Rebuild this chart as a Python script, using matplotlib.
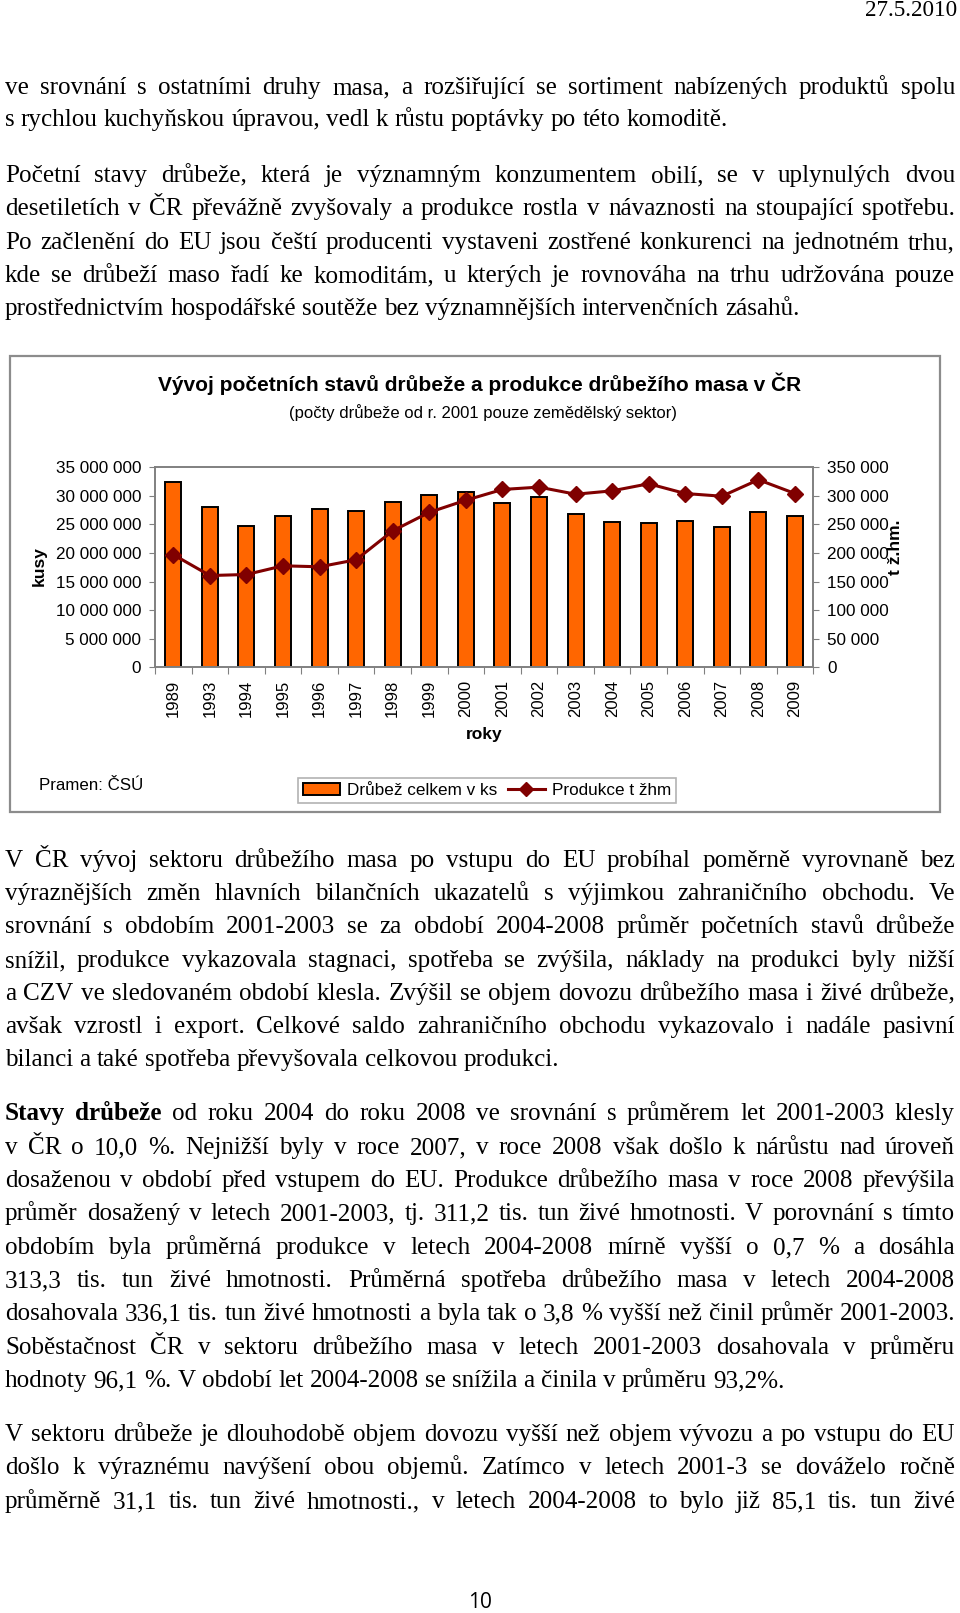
import matplotlib
matplotlib.use('Agg')
import matplotlib.pyplot as plt
import matplotlib.ticker as mticker
from matplotlib.patches import Rectangle, Patch
from matplotlib.lines import Line2D
import numpy as np

W, H = 960, 1613

# chart data
years = ['1989', '1993', '1994', '1995', '1996', '1997', '1998', '1999', '2000',
         '2001', '2002', '2003', '2004', '2005', '2006', '2007', '2008', '2009']
poultry_ks = [32400000, 28100000, 24800000, 26500000, 27700000, 27400000, 28900000,
              30100000, 30700000, 28800000, 29800000, 26800000, 25400000, 25200000,
              25600000, 24500000, 27200000, 26400000]
production_t = [197100, 160600, 162400, 177600, 175900, 188200, 238800, 271200,
                292400, 311200, 315300, 302900, 308800, 321200, 304100, 299400,
                328200, 304100]

chart_title = 'Vývoj početních stavů drůbeže a produkce drůbežího masa v ČR'
chart_subtitle = '(počty drůbeže od r. 2001 pouze zemědělský sektor)'

# page text, one entry per printed line: (y centre, text, justified)
text_top = [
    (88, 've srovnání s ostatními druhy masa, a  rozšiřující se sortiment nabízených produktů spolu', True),
    (120, 's rychlou kuchyňskou úpravou, vedl k růstu poptávky po této komoditě.', False),
    (176, 'Početní stavy drůbeže, která je významným konzumentem obilí, se v uplynulých dvou', True),
    (209, 'desetiletích v ČR převážně zvyšovaly a produkce rostla v návaznosti na stoupající spotřebu.', True),
    (243, 'Po začlenění do EU jsou čeští producenti vystaveni zostřené konkurenci na jednotném trhu,', True),
    (276, 'kde se drůbeží maso řadí ke komoditám, u kterých je rovnováha na trhu udržována pouze', True),
    (309, 'prostřednictvím hospodářské soutěže bez významnějších intervenčních zásahů.', False),
]
text_bottom = [
    (861, 'V ČR vývoj sektoru drůbežího masa po vstupu do EU probíhal poměrně vyrovnaně bez', True),
    (894, 'výraznějších změn hlavních bilančních ukazatelů s výjimkou zahraničního obchodu. Ve', True),
    (927, 'srovnání s obdobím 2001-2003 se za období 2004-2008 průměr početních stavů drůbeže', True),
    (961, 'snížil, produkce vykazovala stagnaci, spotřeba se zvýšila, náklady na produkci byly nižší', True),
    (994, 'a CZV ve sledovaném období klesla. Zvýšil se objem dovozu drůbežího masa i živé drůbeže,', True),
    (1027, 'avšak vzrostl i export. Celkové saldo zahraničního obchodu vykazovalo i nadále pasivní', True),
    (1060, 'bilanci a také spotřeba převyšovala celkovou produkci.', False),
    (1114, 'Stavy drůbeže od roku 2004 do roku 2008 ve srovnání s průměrem let 2001-2003 klesly', True),
    (1148, 'v ČR o 10,0 %. Nejnižší byly v roce 2007, v roce 2008 však došlo k nárůstu nad úroveň', True),
    (1181, 'dosaženou v období před vstupem do EU. Produkce drůbežího masa v roce 2008 převýšila', True),
    (1214, 'průměr dosažený v letech 2001-2003, tj. 311,2 tis. tun živé hmotnosti. V porovnání s tímto', True),
    (1248, 'obdobím byla průměrná produkce v letech 2004-2008 mírně vyšší o 0,7 % a dosáhla', True),
    (1281, '313,3 tis. tun živé hmotnosti. Průměrná spotřeba drůbežího masa v letech 2004-2008', True),
    (1314, 'dosahovala 336,1 tis. tun živé hmotnosti a byla tak o 3,8 % vyšší než činil průměr 2001-2003.', True),
    (1348, 'Soběstačnost ČR v sektoru drůbežího masa v letech 2001-2003 dosahovala v průměru', True),
    (1381, 'hodnoty 96,1 %. V období let 2004-2008 se snížila a činila v průměru 93,2%.', False),
    (1435, 'V sektoru drůbeže je dlouhodobě objem dovozu vyšší než objem vývozu a po vstupu do EU', True),
    (1468, 'došlo k výraznému navýšení obou objemů. Zatímco v letech 2001-3 se dováželo ročně', True),
    (1502, 'průměrně 31,1 tis. tun živé hmotnosti., v letech 2004-2008 to bylo již 85,1 tis. tun živé', True),
]
bold_start = {'Stavy drůbeže od roku 2004 do roku 2008 ve srovnání s průměrem let 2001-2003 klesly': 2}

SERIF = 'Liberation Serif'
SANS = 'Liberation Sans'


def fx(x):
    return x / W


def fy(y):
    return 1 - y / H


fig = plt.figure(figsize=(W / 100, H / 100), dpi=100)
renderer = fig.canvas.get_renderer()


def text_width(s, size, weight='normal'):
    t = fig.text(0, 0, s, fontsize=size, family=SERIF, weight=weight)
    w = t.get_window_extent(renderer).width
    t.remove()
    return w


# pick body size so a short last line comes out as wide as on the page
w10 = text_width('s rychlou kuchyňskou úpravou, vedl k růstu poptávky po této komoditě.', 10)
body_size = 10 * 724 / w10


def draw_line(y, line, justify, x0=5, x1=955):
    words = line.split()
    nb = bold_start.get(line, 0)
    weights = ['bold' if i < nb else 'normal' for i in range(len(words))]
    widths = [text_width(w, body_size, wt) for w, wt in zip(words, weights)]
    space = text_width('a a', body_size) - text_width('aa', body_size)
    if justify and len(words) > 1:
        gap = (x1 - x0 - sum(widths)) / (len(words) - 1)
    else:
        gap = space
    x = x0
    for w, wd, wt in zip(words, widths, weights):
        fig.text(fx(x), fy(y + 6), w, fontsize=body_size, family=SERIF, weight=wt,
                 ha='left', va='baseline')
        x += wd + gap


for y, line, just in text_top + text_bottom:
    draw_line(y, line, just)

fig.text(fx(957), fy(16), '27.5.2010', fontsize=body_size * 0.92, family=SERIF,
         ha='right', va='baseline')
fig.text(fx(480), fy(1602), '10', fontsize=15, family='Open Sans',
         ha='center', va='center')

# chart frame
fig.patches.append(Rectangle((fx(10), fy(812)), fx(930), (812 - 356) / H,
                             transform=fig.transFigure, fill=False,
                             edgecolor='#8c8c8c', linewidth=1.6))

fig.text(fx(480), fy(384), chart_title, fontsize=15, family=SANS,
         weight='bold', ha='center', va='center')
fig.text(fx(483), fy(413), chart_subtitle, fontsize=12, family=SANS,
         ha='center', va='center')

# plot area
ax = fig.add_axes([fx(155), fy(667.3), (813.3 - 155) / W, 200 / H])
x = np.arange(len(years))
ax.bar(x, poultry_ks, width=0.44, color='#ff6600', edgecolor='black',
       linewidth=1.4, zorder=2)
ax.set_xlim(-0.5, len(years) - 0.5)
ax.set_ylim(0, 35000000)
ax.yaxis.set_major_locator(mticker.MultipleLocator(5000000))
space_fmt = mticker.FuncFormatter(lambda v, p: f'{int(v):,}'.replace(',', ' '))
ax.yaxis.set_major_formatter(space_fmt)

ax.set_xticks(np.arange(-0.5, len(years), 1.0))
ax.set_xticklabels([])
ax.set_xticks(x, minor=True)
ax.set_xticklabels(years, minor=True, rotation=90, fontsize=12, family=SANS)
ax.tick_params(axis='x', which='major', length=5, color='#808080', direction='out')
ax.tick_params(axis='x', which='minor', length=0, pad=9)
ax.tick_params(axis='y', length=4, color='#808080', labelsize=12.3, pad=6)
for lab in ax.get_yticklabels():
    lab.set_family(SANS)
for sp in ax.spines.values():
    sp.set_color('#808080')
    sp.set_linewidth(1.2)

ax2 = ax.twinx()
ax2.plot(x, production_t, color='#800000', linewidth=2.2, marker='D',
         markersize=8, markerfacecolor='#800000', markeredgecolor='#800000')
ax2.set_ylim(0, 350000)
ax2.yaxis.set_major_locator(mticker.MultipleLocator(50000))
ax2.yaxis.set_major_formatter(space_fmt)
ax2.tick_params(axis='y', length=4, color='#808080', labelsize=12.3, pad=6)
for lab in ax2.get_yticklabels():
    lab.set_family(SANS)
for sp in ax2.spines.values():
    sp.set_color('#808080')
    sp.set_linewidth(1.2)

fig.text(fx(39), fy(566), 'kusy', fontsize=12.5, family=SANS, weight='bold',
         rotation=90, ha='center', va='center')
fig.text(fx(895), fy(547), 't ž.hm.', fontsize=12.5, family=SANS, weight='bold',
         rotation=90, ha='center', va='center')
fig.text(fx(484), fy(735), 'roky', fontsize=12.5, family=SANS, weight='bold',
         ha='center', va='center')
fig.text(fx(39), fy(785), 'Pramen: ČSÚ', fontsize=12.2, family=SANS,
         ha='left', va='center')

handles = [Patch(facecolor='#ff6600', edgecolor='black', linewidth=1.4),
           Line2D([], [], color='#800000', linewidth=2.2, marker='D',
                  markersize=7)]
leg = fig.legend(handles, ['Drůbež celkem v ks', 'Produkce t žhm'], ncol=2,
                 loc='center', bbox_to_anchor=(fx(487), fy(790.5)),
                 frameon=True, fancybox=False, edgecolor='#a0a0a0',
                 prop={'family': SANS, 'size': 12.3}, handlelength=2.2,
                 handletextpad=0.4, columnspacing=0.6, borderpad=0.3)
leg.get_frame().set_linewidth(1.2)

fig.savefig('out.png', dpi=100)
